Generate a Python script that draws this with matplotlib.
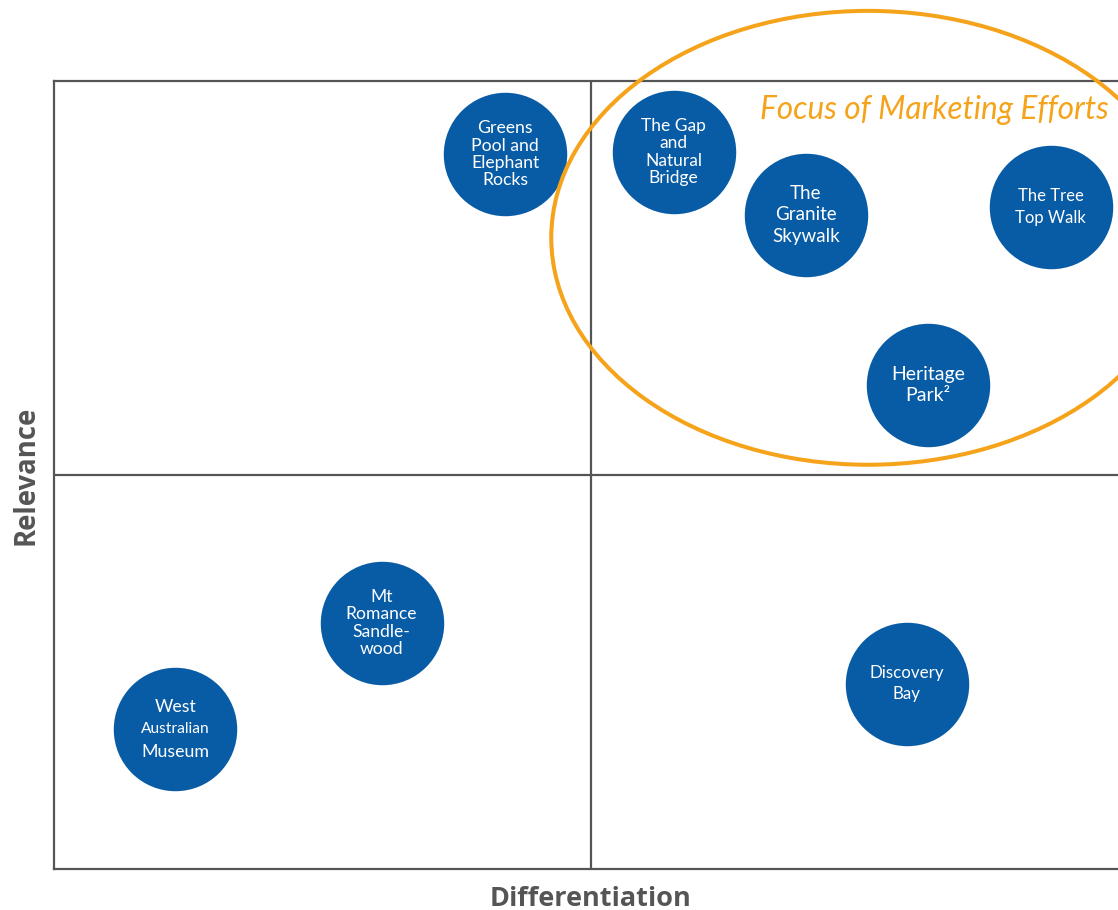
import matplotlib.pyplot as plt
from matplotlib.patches import Ellipse

# Позиции объектов на матрице (Differentiation, Relevance), шкала 0..10
labels = ["Greens\nPool and\nElephant\nRocks", "The Gap\nand\nNatural\nBridge", "The\nGranite\nSkywalk",
          "The Tree\nTop Walk", "Heritage\nPark²", "Mt\nRomance\nSandle-\nwood",
          "West\nAustralian\nMuseum", "Discovery\nBay"]
differentiation = [4.20, 5.77, 7.00, 9.28, 8.14, 3.05, 1.13, 7.94]
relevance = [9.07, 9.10, 8.30, 8.40, 6.14, 3.12, 1.78, 2.35]
font_sizes = [12.7, 12.5, 13.5, 12, 14, 12.6, 12.8, 12.2]
line_spacings = [1.1, 1.1, 1.32, 1.45, 1.33, 1.1, 1.2, 1.4]

blue = '#085ba5'
orange = '#f5a31a'
gray = '#555555'

plt.rcParams['font.family'] = ['Lato', 'DejaVu Sans']

fig = plt.figure(figsize=(11.18, 9.10), dpi=100)
ax = fig.add_axes([54 / 1118, 41 / 910, 1074 / 1118, 788 / 910])
ax.set_xlim(0, 10)
ax.set_ylim(0, 10)
ax.set_xticks([])
ax.set_yticks([])
for s in ax.spines.values():
    s.set_color(gray)
    s.set_linewidth(1.6)

# Линии квадрантов
ax.axvline(5, color=gray, lw=1.6)
ax.axhline(5, color=gray, lw=1.6)

# Кружки
ax.scatter(differentiation, relevance, s=7900, color=blue, zorder=3, linewidths=0)
for name, x, y, fs, ls in zip(labels, differentiation, relevance, font_sizes, line_spacings):
    if name.startswith("West"):
        ax.text(x, y + 0.28, "West", color='white', fontsize=fs, ha='center', va='center', zorder=4)
        ax.text(x, y, "Australian", color='white', fontsize=11.2, ha='center', va='center', zorder=4)
        ax.text(x, y - 0.29, "Museum", color='white', fontsize=fs, ha='center', va='center', zorder=4)
    else:
        ax.text(x, y, name, color='white', fontsize=fs, ha='center', va='center',
                linespacing=ls, zorder=4)

# Эллипс с областью фокуса
ell = Ellipse((7.58, 8.01), 5.90, 5.76, fill=False, edgecolor=orange, lw=2.9,
              clip_on=False, zorder=5)
ax.add_patch(ell)
ax.text(9.82, 9.63, "Focus of Marketing Efforts", color=orange, fontsize=22.8,
        style='italic', ha='right', va='center', zorder=5)

ax.set_xlabel("Differentiation", fontsize=19.5, fontweight='bold', color=gray,
              family=['Open Sans', 'DejaVu Sans'], labelpad=12)
ax.set_ylabel("Relevance", fontsize=19.8, fontweight='bold', color=gray,
              family=['Open Sans', 'DejaVu Sans'], labelpad=10)

fig.savefig('out.png', dpi=100)
